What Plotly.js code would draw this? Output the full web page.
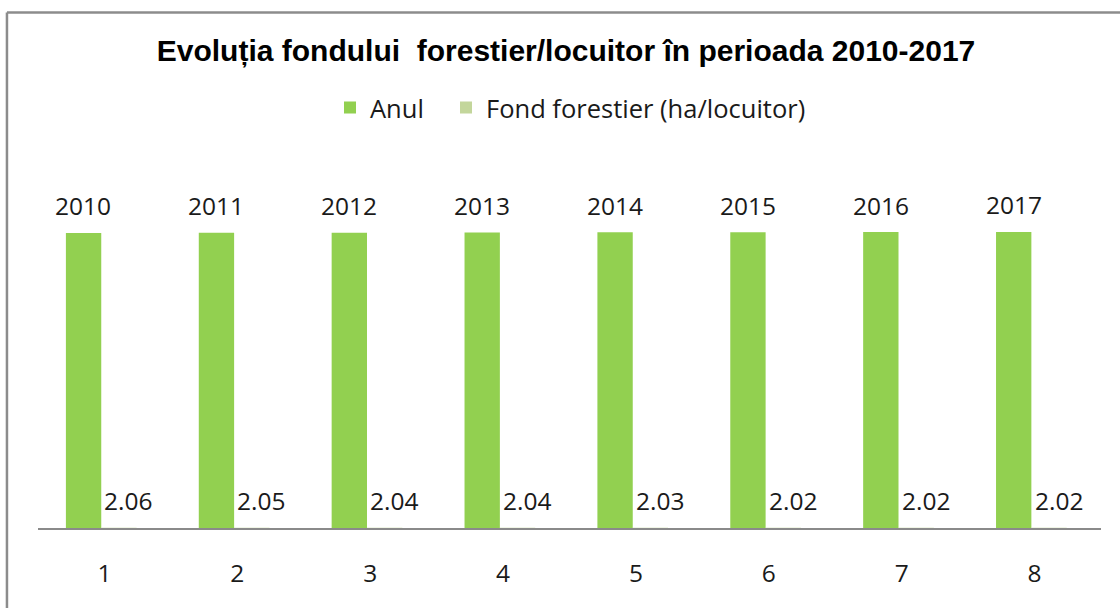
<!DOCTYPE html>
<html>
<head>
<meta charset="utf-8">
<script src="https://cdn.plot.ly/plotly-3.0.1.min.js"></script>
<style>html,body{margin:0;padding:0;background:#fff;}#chart{width:1120px;height:608px;}</style>
</head>
<body>
<div id="chart"></div>
<script>
const categories = ["1", "2", "3", "4", "5", "6", "7", "8"];
const anul = [2010, 2011, 2012, 2013, 2014, 2015, 2016, 2017];
const fond = [2.06, 2.05, 2.04, 2.04, 2.03, 2.02, 2.02, 2.02];
const fondLabels = ["2.06", "2.05", "2.04", "2.04", "2.03", "2.02", "2.02", "2.02"];

const labelFont = {family: "Open Sans, sans-serif", size: 24.5, color: "#1a1a1a"};
const legendFont = {family: "Open Sans, sans-serif", size: 25.5, color: "#1a1a1a"};

const traces = [
  {type: "bar", name: "Anul", x: categories, y: anul, marker: {color: "#92D050"},
   width: 0.266, offset: -0.29, hoverinfo: "none", legend: "legend"},
  {type: "bar", name: "Fond forestier (ha/locuitor)", x: categories, y: fond, marker: {color: "#C3D69B"},
   width: 0.266, offset: -0.024, hoverinfo: "none", legend: "legend2"}
];

const annotations = [];
categories.forEach((c, i) => {
  // category axis: position by category index
  annotations.push({x: i, y: anul[i], xref: "x", yref: "y", text: String(anul[i]), showarrow: false,
    xanchor: "center", yanchor: "middle", xshift: -21, yshift: 27, font: labelFont});
  annotations.push({x: i, y: fond[i], xref: "x", yref: "y", text: fondLabels[i], showarrow: false,
    xanchor: "center", yanchor: "middle", xshift: 24, yshift: 27, font: labelFont});
});

const layout = {
  width: 1120, height: 608,
  margin: {l: 38, r: 19, t: 161, b: 80},
  paper_bgcolor: "#fff", plot_bgcolor: "#fff",
  showlegend: true,
  title: {text: "Evoluția fondului  forestier/locuitor în perioada 2010-2017",
    font: {family: "Liberation Sans, Arial, sans-serif", size: 30, color: "#000", weight: "bold"},
    x: 566/1120, xref: "container", xanchor: "center", y: 1 - 50/608, yref: "container", yanchor: "middle"},
  legend: {orientation: "h", x: 330/1120, xanchor: "left", xref: "container", y: 1 - 108/608, yref: "container", yanchor: "middle",
    font: legendFont, bgcolor: "rgba(0,0,0,0)"},
  legend2: {orientation: "h", x: 446/1120, xanchor: "left", xref: "container", y: 1 - 108/608, yref: "container", yanchor: "middle",
    font: legendFont, bgcolor: "rgba(0,0,0,0)"},
  xaxis: {type: "category", range: [-0.5, 7.5], showline: true, linecolor: "#8a8a8a", linewidth: 1.5,
    ticks: "", showgrid: false, zeroline: false, ticklabelstandoff: 23,
    tickfont: {family: "Open Sans, sans-serif", size: 24.5, color: "#1a1a1a"}, fixedrange: true},
  yaxis: {range: [0, 2500], visible: false, showgrid: false, zeroline: false, fixedrange: true},
  annotations: annotations,
  shapes: [
    {type: "line", xref: "paper", yref: "paper", x0: -0.0292, x1: -0.0292, y0: -0.3, y1: 1.4046,
     line: {color: "#8c8c8c", width: 2.5}},
    {type: "line", xref: "paper", yref: "paper", x0: -0.0292, x1: 1.05, y0: 1.4046, y1: 1.4046,
     line: {color: "#8c8c8c", width: 2.5}}
  ]
};

Plotly.newPlot("chart", traces, layout, {displayModeBar: false, staticPlot: true});
</script>
</body>
</html>
